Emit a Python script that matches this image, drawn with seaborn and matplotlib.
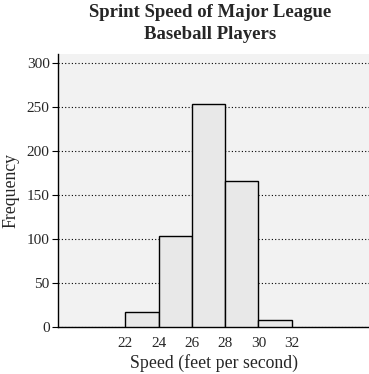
import matplotlib
matplotlib.use("Agg")
import matplotlib.pyplot as plt
import seaborn as sns
import numpy as np

bin_edges = [22, 24, 26, 28, 30, 32]
counts = [17, 103, 253, 166, 8]
x_ticks = [22, 24, 26, 28, 30, 32]
y_ticks = [0, 50, 100, 150, 200, 250, 300]
title = "Sprint Speed of Major League\nBaseball Players"
x_label = "Speed (feet per second)"
y_label = "Frequency"

sns.set_style("white")
plt.rcParams['font.family'] = ['Liberation Serif', 'DejaVu Serif']

fig = plt.figure(figsize=(3.69, 3.74), dpi=100)
ax = fig.add_axes([58/369, 47/374, 1 - 58/369, 273/374])
ax.set_facecolor('#f2f2f2')

centers = [(a + b) / 2 for a, b in zip(bin_edges[:-1], bin_edges[1:])]
sns.histplot(x=centers, weights=counts, bins=bin_edges, ax=ax,
             color='#e8e8e8', edgecolor='black', linewidth=1.0, alpha=1, zorder=3)

ax.set_xlim(17.95, 36.65)
ax.set_ylim(0, 310)
ax.set_xticks(x_ticks)
ax.set_yticks(y_ticks)
ax.yaxis.grid(True, linestyle=(0, (1, 2)), color='black', linewidth=0.8, zorder=1)
ax.xaxis.grid(False)
ax.set_axisbelow(True)
for s in ['top', 'right']:
    ax.spines[s].set_visible(False)
for s in ['left', 'bottom']:
    ax.spines[s].set_color('black')
    ax.spines[s].set_linewidth(1.0)
ax.tick_params(axis='y', length=4, width=0.8, color='black', labelsize=11, pad=2, left=True)
ax.tick_params(axis='x', length=0, labelsize=11, pad=7)
ax.set_xlabel(x_label, fontsize=12.8, labelpad=3)
ax.set_ylabel(y_label, fontsize=12.8, labelpad=5)
fig.suptitle(title, fontsize=13.5, fontweight='bold', x=0.57, y=0.99, linespacing=1.4)

fig.savefig("out.png", dpi=100)
